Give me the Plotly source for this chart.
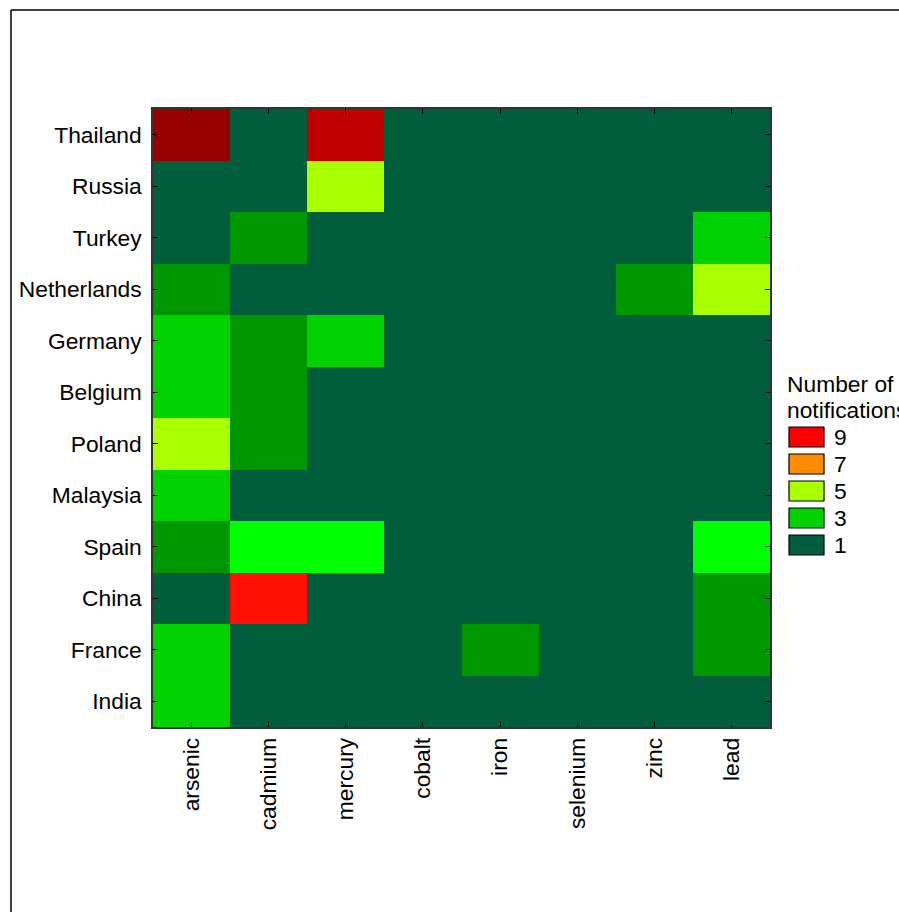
import plotly.graph_objects as go

metals = ["arsenic", "cadmium", "mercury", "cobalt", "iron", "selenium", "zinc", "lead"]
countries = ["Thailand", "Russia", "Turkey", "Netherlands", "Germany", "Belgium",
             "Poland", "Malaysia", "Spain", "China", "France", "India"]

thailand    = [11, 1, 10, 1, 1, 1, 1, 1]
russia      = [1, 1, 5, 1, 1, 1, 1, 1]
turkey      = [1, 2, 1, 1, 1, 1, 1, 3]
netherlands = [2, 1, 1, 1, 1, 1, 2, 5]
germany     = [3, 2, 3, 1, 1, 1, 1, 1]
belgium     = [3, 2, 1, 1, 1, 1, 1, 1]
poland      = [5, 2, 1, 1, 1, 1, 1, 1]
malaysia    = [3, 1, 1, 1, 1, 1, 1, 1]
spain       = [2, 4, 4, 1, 1, 1, 1, 4]
china       = [1, 9, 1, 1, 1, 1, 1, 2]
france      = [3, 1, 1, 1, 2, 1, 1, 2]
india       = [3, 1, 1, 1, 1, 1, 1, 1]

z = [thailand, russia, turkey, netherlands, germany, belgium,
     poland, malaysia, spain, china, france, india]

legend_title = ["Number of", "notifications"]
legend_levels = [9, 7, 5, 3, 1]
legend_colors = ["#FF0000", "#FF8C00", "#AAFF00", "#00D200", "#005E3C"]

value_colors = ["#005E3C", "#009600", "#00D200", "#00FF00", "#AAFF00", "#D4C600",
                "#FF8C00", "#FF4600", "#FF1000", "#C00000", "#960000"]
n = len(value_colors)
colorscale = []
for i, c in enumerate(value_colors):
    colorscale.append([i / n, c])
    colorscale.append([(i + 1) / n, c])

W, H = 899, 912
L, R, T, B = 153, 129, 109, 185
pw, ph = W - L - R, H - T - B

def px(x):
    return (x - L) / pw

def py(y):
    return (H - B - y) / ph

fig = go.Figure(go.Heatmap(
    z=z, x=metals, y=countries, colorscale=colorscale,
    zmin=0.5, zmax=n + 0.5, showscale=False, xgap=0, ygap=0,
    hovertemplate="%{y} / %{x}: %{z}<extra></extra>"))

font = dict(family="Liberation Sans, Arial, sans-serif", size=22.8, color="#000000")

fig.update_layout(
    width=W, height=H, margin=dict(l=L, r=R, t=T, b=B),
    paper_bgcolor="white", plot_bgcolor="white", font=font,
    xaxis=dict(tickangle=-90, ticks="inside", ticklen=5, tickcolor="#000",
               showline=True, linecolor="#333", linewidth=1.5, mirror="ticks",
               tickfont=font, showgrid=False, zeroline=False),
    yaxis=dict(autorange="reversed", ticks="inside", ticklen=5, tickcolor="#000",
               showline=True, linecolor="#333", linewidth=1.5, mirror="ticks",
               tickfont=font, showgrid=False, zeroline=False, ticklabelstandoff=5),
)

shapes = [
    dict(type="line", xref="paper", yref="paper", x0=px(11), x1=px(11), y0=py(10), y1=py(H + 10),
         line=dict(color="black", width=1.5)),
    dict(type="line", xref="paper", yref="paper", x0=px(11), x1=px(W + 10), y0=py(10), y1=py(10),
         line=dict(color="black", width=1.5)),
]
annotations = []
for j, line in enumerate(legend_title):
    annotations.append(dict(text=line, xref="paper", yref="paper",
                            x=px(785), y=py(384 + 26 * j), xanchor="left", yanchor="middle",
                            showarrow=False, font=font))
for i, (lv, col) in enumerate(zip(legend_levels, legend_colors)):
    cy = 437 + 27 * i
    shapes.append(dict(type="rect", xref="paper", yref="paper",
                       x0=px(789), x1=px(824), y0=py(cy - 10), y1=py(cy + 10),
                       fillcolor=col, line=dict(color="black", width=1.2)))
    annotations.append(dict(text=str(lv), xref="paper", yref="paper",
                            x=px(832), y=py(cy), xanchor="left", yanchor="middle",
                            showarrow=False, font=font))

fig.update_layout(shapes=shapes, annotations=annotations)
fig.write_html("out.html", config={"displayModeBar": False},
               post_script="document.body.style.margin='0';")
